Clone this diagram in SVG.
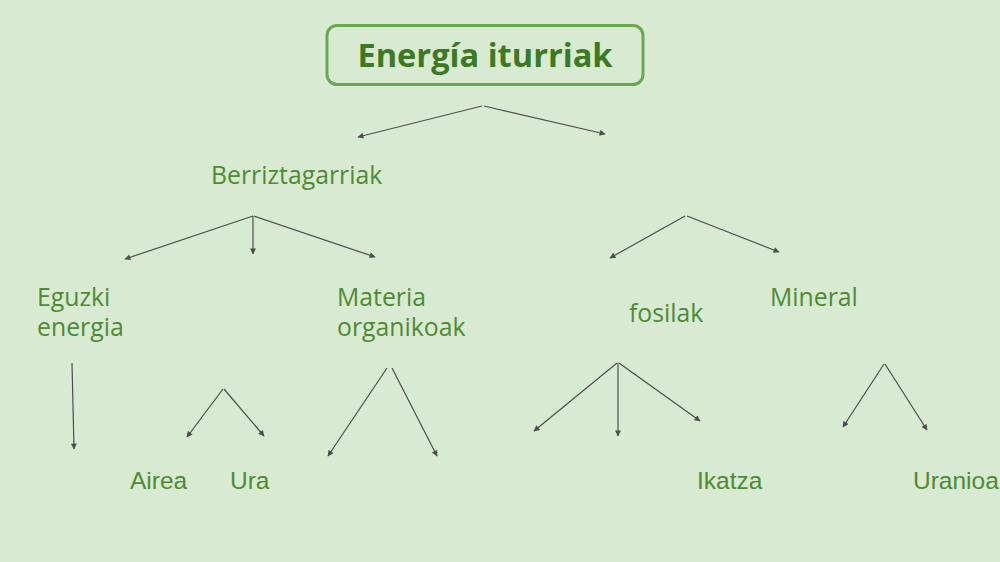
<svg xmlns="http://www.w3.org/2000/svg" width="1000" height="562" viewBox="0 0 1000 562">
<defs>
<marker id="ah" viewBox="0 0 10 10" refX="9" refY="5" markerWidth="7" markerHeight="6" markerUnits="userSpaceOnUse" orient="auto">
<path d="M0,0 L10,5 L0,10 z" fill="#4d4d4d"/>
</marker>
<style>
.os{font-family:"Open Sans","DejaVu Sans",sans-serif;font-size:24.8px;fill:#4e8b33}
.ar{font-family:"Liberation Sans",Arial,sans-serif;font-size:24.5px;fill:#4e8b33}
.c line{stroke:#4d4d4d;stroke-width:1.2;marker-end:url(#ah)}
</style>
</defs>
<rect width="1000" height="562" fill="#d9ead3"/>
<g id="title">
<rect x="327" y="25.5" width="316" height="59" rx="10" fill="none" stroke="#6aa84f" stroke-width="3"/>
<text x="485" y="67" text-anchor="middle" font-family="'Open Sans','DejaVu Sans',sans-serif" font-weight="bold" font-size="32.6" fill="#3b7a22">Energía iturriak</text>
</g>
<g id="berriztagarriak"><text class="os" x="211" y="184">Berriztagarriak</text></g>
<g id="eguzki"><text class="os" x="37" y="306">Eguzki<tspan x="37" dy="30">energia</tspan></text></g>
<g id="materia"><text class="os" x="337" y="306">Materia<tspan x="337" dy="30">organikoak</tspan></text></g>
<g id="fosilak"><text class="os" x="629" y="322">fosilak</text></g>
<g id="mineral"><text class="os" x="770" y="306">Mineral</text></g>
<g id="airea"><text class="ar" x="130" y="489">Airea</text></g>
<g id="ura"><text class="ar" x="230" y="489">Ura</text></g>
<g id="ikatza"><text class="ar" x="697" y="489">Ikatza</text></g>
<g id="uranioa"><text class="ar" x="913" y="489">Uranioa</text></g>
<g id="connectors" class="c">
<line x1="482" y1="106" x2="358" y2="137"/>
<line x1="484" y1="106" x2="605" y2="134"/>
<line x1="253" y1="216" x2="125" y2="259"/>
<line x1="253" y1="216" x2="253" y2="254"/>
<line x1="254" y1="216" x2="375" y2="257"/>
<line x1="72" y1="363" x2="74" y2="449"/>
<line x1="223" y1="389" x2="187" y2="437"/>
<line x1="224" y1="389" x2="264" y2="436"/>
<line x1="387" y1="368" x2="328" y2="456"/>
<line x1="392" y1="368" x2="437" y2="456"/>
<line x1="685" y1="216" x2="610" y2="258"/>
<line x1="687" y1="216" x2="779" y2="252"/>
<line x1="617" y1="363" x2="534" y2="431"/>
<line x1="618" y1="363" x2="618" y2="436"/>
<line x1="619" y1="363" x2="700" y2="421"/>
<line x1="884" y1="364" x2="843" y2="427"/>
<line x1="885" y1="364" x2="927" y2="430"/>
</g>
</svg>
